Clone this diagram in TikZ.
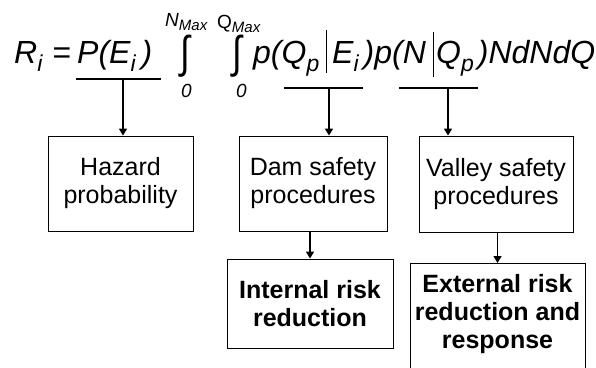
\documentclass[tikz,border=0pt]{standalone}
\usepackage{fontspec}
\setmainfont{Liberation Sans}
\usetikzlibrary{arrows.meta,calc}

\newcommand{\sbi}[1]{\raisebox{-8pt}{\fontsize{23}{23}\selectfont #1}}
\newcommand{\sbmax}[1]{\raisebox{-4pt}{\fontsize{15}{15}\selectfont #1}}
\newcommand{\intsign}{\scalebox{1.1}[1.38]{∫}}

\begin{document}
\begin{tikzpicture}[x=1pt, y=-1pt,
    box/.style={draw, line width=0.9pt, align=center, inner sep=0pt,
        font=\fontsize{25}{28}\selectfont},
    boldbox/.style={box, font=\fontsize{25}{28}\selectfont\bfseries},
    eqn/.style={anchor=base west, inner sep=0pt,
        font=\fontsize{32}{32}\selectfont\itshape},
    lim/.style={anchor=base west, inner sep=0pt,
        font=\fontsize{19}{19}\selectfont\itshape},
    uline/.style={line width=1.2pt},
    arr/.style={line width=1.4pt, -{Triangle[length=7pt,width=8pt]}}]
    \useasboundingbox (0,0) rectangle (596,367);

    % the risk formula
    \node[eqn] (ri) at (14,63) {R\sbi{i}};
    \node[eqn] (eq) at (52,63) {=};
    \node[eqn] (pe) at (77,63) {P(E\sbi{i}\hspace{6pt})};
    \node[eqn] (int1) at (180,67) {\intsign};
    \node[eqn] (int2) at (232,67) {\intsign};
    \node[lim] (nmax) at (165,26) {N\sbmax{Max}};
    \node[lim] (qmax) at (217,28) {\upshape Q\sbmax{\itshape Max}};
    \node[lim] (zero1) at (181,97) {0};
    \node[lim] (zero2) at (236,97) {0};
    \node[eqn] (pq) at (253,63) {p(Q\sbi{p}};
    \node[eqn] (ep) at (332,63) {E\sbi{i}\hspace{5pt})p(N};
    \node[eqn] (qn) at (436,63) {Q\sbi{p}\hspace{4pt})NdNdQ};
    \draw[line width=1pt] (326,30) -- (326,73);
    \draw[line width=1pt] (433,32) -- (433,77);

    % boxes
    \node[box, minimum width=145pt, minimum height=95pt] (hazard) at (120.5,183.5) {Hazard\\probability};
    \node[box, minimum width=148pt, minimum height=95pt] (dam) at (313,183.5) {Dam safety\\procedures};
    \node[box, minimum width=154pt, minimum height=96pt] (valley) at (496,184) {Valley safety\\procedures};
    \node[boldbox, minimum width=166pt, minimum height=89pt] (internal) at (310,303.5) {Internal risk\\reduction};
    \node[boldbox, minimum width=175pt, anchor=north, inner ysep=11pt] (external) at (497.5,263) {External risk\\reduction and\\response\\\strut};

    % underlines and arrows
    \coordinate (u1a) at (76,79);  \coordinate (u1b) at (161,79);
    \coordinate (u2a) at (284,88); \coordinate (u2b) at (363,88);
    \coordinate (u3a) at (399,88); \coordinate (u3b) at (478,88);
    \coordinate (t1) at (123,79);
    \coordinate (t2) at (329,88);
    \coordinate (t3) at (448,88);
    \draw[uline] (u1a) -- (u1b);
    \draw[uline] (u2a) -- (u2b);
    \draw[uline] (u3a) -- (u3b);
    \draw[arr] (t1) -- (t1 |- hazard.north);
    \draw[arr] (t2) -- (t2 |- dam.north);
    \draw[arr] (t3) -- (t3 |- valley.north);
    \draw[arr] (internal.north |- dam.south) -- (internal.north);
    \draw[arr] (external.north |- valley.south) -- (external.north);
\end{tikzpicture}
\end{document}
